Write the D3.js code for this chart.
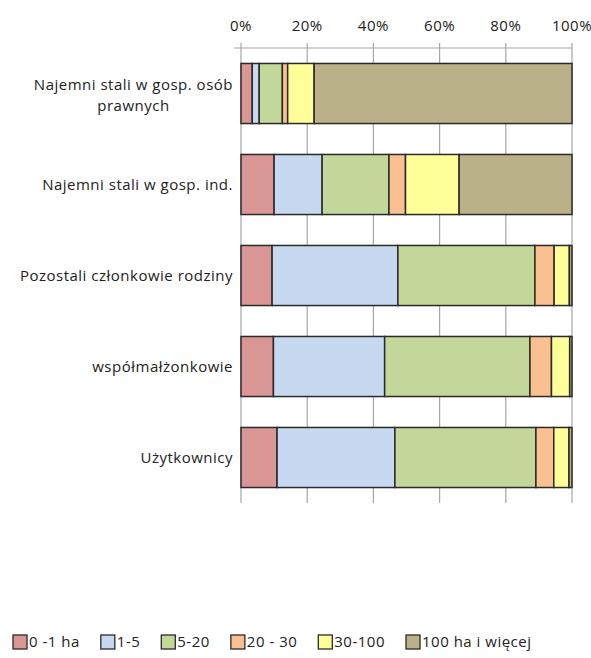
<!DOCTYPE html>
<html>
<head>
<meta charset="utf-8">
<script src="https://cdn.jsdelivr.net/npm/d3@7"></script>
<style>
    body { margin: 0; background: #fff; }
    svg { display: block; font-family: 'Open Sans', sans-serif; }
</style>
</head>
<body>
<svg id="chart"></svg>
<script>
const categories = [
    'Najemni stali w gosp. osób prawnych',
    'Najemni stali w gosp. ind.',
    'Pozostali członkowie rodziny',
    'współmałżonkowie',
    'Użytkownicy',
];
const seriesNames = ['0 -1 ha', '1-5', '5-20', '20 - 30', '30-100', '100 ha i więcej'];
const seriesColors = ['#d99694', '#c6d9f1', '#c4d79b', '#fac090', '#ffff99', '#bab189'];

// udział (%) w kolejności kategorii
const ha0_1 = [3.4, 10.0, 9.4, 9.8, 10.9];
const ha1_5 = [2.1, 14.5, 38.0, 33.6, 35.6];
const ha5_20 = [7.0, 20.2, 41.4, 43.9, 42.6];
const ha20_30 = [1.6, 5.0, 5.8, 6.5, 5.4];
const ha30_100 = [8.0, 16.2, 4.6, 5.5, 4.6];
const ha100plus = [77.9, 34.1, 0.8, 0.7, 0.9];
const xTicks = [0, 20, 40, 60, 80, 100];

const seriesValues = [ha0_1, ha1_5, ha5_20, ha20_30, ha30_100, ha100plus];

const w = 591;
const h = 658;
const margin = { top: 48, right: 19, bottom: 155, left: 241 };
const fontSize = 15;
const spacing = '0.5px';

const svg = d3.select('#chart').attr('width', w).attr('height', h);

const rows = categories.map((c, i) => {
    const row = { cat: c };
    seriesNames.forEach((s, j) => { row[s] = seriesValues[j][i]; });
    return row;
});

const stack = d3.stack().keys(seriesNames);
const layers = stack(rows);

const x = d3.scaleLinear()
    .domain([0, 100])
    .range([margin.left, w - margin.right]);

const y = d3.scaleBand()
    .domain(categories)
    .range([margin.top, h - margin.bottom])
    .paddingInner(0.34)
    .paddingOuter(0.17);

const color = d3.scaleOrdinal(seriesNames, seriesColors);

// siatka + oś górna
const gridCol = '#a6a6a6';
svg.append('g')
    .selectAll('line')
    .data(xTicks)
    .enter()
    .append('line')
    .attr('x1', (d) => x(d))
    .attr('x2', (d) => x(d))
    .attr('y1', margin.top - 5)
    .attr('y2', h - margin.bottom)
    .attr('stroke', gridCol)
    .attr('stroke-width', 1.2);

svg.append('line')
    .attr('x1', margin.left - 7)
    .attr('x2', x(100))
    .attr('y1', margin.top)
    .attr('y2', margin.top)
    .attr('stroke', gridCol)
    .attr('stroke-width', 1.2);

svg.append('g')
    .selectAll('text')
    .data(xTicks)
    .enter()
    .append('text')
    .attr('x', (d) => x(d))
    .attr('y', margin.top - 17)
    .attr('text-anchor', 'middle')
    .attr('font-size', fontSize)
    .attr('letter-spacing', spacing)
    .attr('fill', '#222')
    .text((d) => d + '%');

// słupki
svg.append('g')
    .selectAll('g')
    .data(layers)
    .enter()
    .append('g')
    .attr('fill', (d) => color(d.key))
    .selectAll('rect')
    .data((d) => d)
    .enter()
    .append('rect')
    .attr('x', (d) => x(d[0]))
    .attr('width', (d) => x(d[1]) - x(d[0]))
    .attr('y', (d) => y(d.data.cat))
    .attr('height', y.bandwidth())
    .attr('stroke', '#2a2a2a')
    .attr('stroke-width', 1.5);

// etykiety kategorii
const labelRight = margin.left - 8;
const labels = svg.append('g')
    .attr('font-size', fontSize)
    .attr('letter-spacing', spacing)
    .attr('fill', '#222');

categories.forEach((c) => {
    const cy = y(c) + y.bandwidth() / 2;
    const t = labels.append('text')
        .attr('x', labelRight)
        .attr('y', cy + 5)
        .attr('text-anchor', 'end')
        .text(c);
    if (t.node().getComputedTextLength() > 222) {
        // zawijanie jak w Excelu: wiersze wyśrodkowane
        const words = c.split(' ');
        const first = words.slice(0, -1).join(' ');
        const second = words[words.length - 1];
        t.text(first);
        const len = t.node().getComputedTextLength();
        const mid = labelRight - len / 2;
        t.attr('x', mid).attr('text-anchor', 'middle').attr('y', cy - 4);
        labels.append('text')
            .attr('x', mid)
            .attr('y', cy + 17)
            .attr('text-anchor', 'middle')
            .text(second);
    }
});

// legenda
const legend = svg.append('g')
    .attr('font-size', fontSize)
    .attr('letter-spacing', spacing)
    .attr('fill', '#222');
let lx = 13;
const ly = 635;
seriesNames.forEach((s) => {
    legend.append('rect')
        .attr('x', lx)
        .attr('y', ly)
        .attr('width', 14)
        .attr('height', 14)
        .attr('fill', color(s))
        .attr('stroke', '#2a2a2a')
        .attr('stroke-width', 1.3);
    const t = legend.append('text')
        .attr('x', lx + 16)
        .attr('y', ly + 12)
        .text(s);
    lx += 16 + t.node().getComputedTextLength() + 21;
});
</script>
</body>
</html>
